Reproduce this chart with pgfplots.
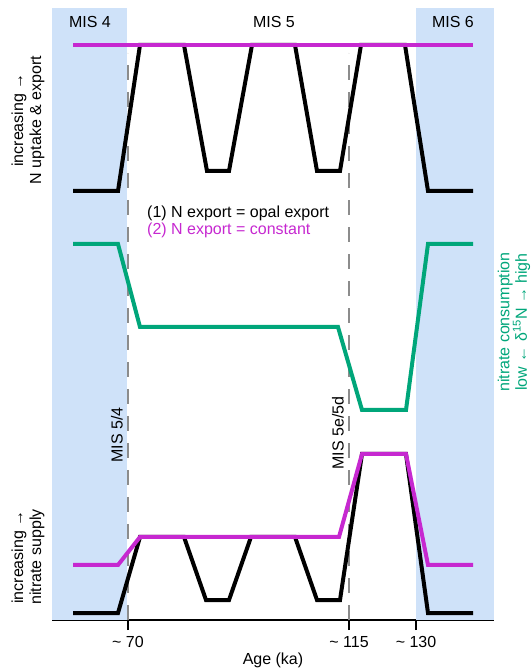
\documentclass[border=0pt]{standalone}
\usepackage{pgfplots}
\pgfplotsset{compat=1.18}
\usepackage{fontspec}
\setmainfont{Liberation Sans}

\definecolor{bandblue}{RGB}{207,226,249}
\definecolor{exportmag}{RGB}{198,40,208}
\definecolor{consgreen}{RGB}{0,166,122}
\definecolor{dashgray}{RGB}{140,140,140}

\newcommand{\lbl}{\fontsize{16pt}{18pt}\selectfont}
\newcommand{\approxage}[1]{\char"7E\ #1}

\begin{document}
\begin{tikzpicture}
\begin{axis}[
  width=442pt, height=612pt, scale only axis,
  xmin=52, xmax=494, ymin=50, ymax=662,
  clip=false,
  axis x line*=bottom, axis y line=none,
  axis line style={-, line width=1.1pt, black},
  xtick={128,349,416},
  xticklabels={\approxage{70}, \approxage{115}, \approxage{130}},
  tick align=outside,
  major tick length=10pt,
  tick style={black, line width=1.1pt},
  xticklabel style={font=\lbl, yshift=-3pt},
  ytick=\empty,
  every axis plot/.append style={line cap=butt, line join=miter},
]
% glacial stages shaded
\addplot[fill=bandblue, draw=none] coordinates {(52,50) (127,50) (127,662) (52,662)} -- cycle;
\addplot[fill=bandblue, draw=none] coordinates {(416,50) (494,50) (494,662) (416,662)} -- cycle;

% stage boundaries
\addplot[dashgray, line width=2pt, dash pattern=on 15pt off 12pt] coordinates {(128,50) (128,617)};
\addplot[dashgray, line width=2pt, dash pattern=on 15pt off 12pt] coordinates {(349,50) (349,617)};

% N uptake & export
\addplot[black, line width=4pt] coordinates {
  (73,479) (118,479) (140,625) (184,625) (207,499) (229,499) (252,625)
  (295,625) (317,499) (340,499) (361,625) (405,625) (428,479) (473,479)};
\addplot[exportmag, line width=4pt] coordinates {(73,625) (473,625)};

% nitrate consumption
\addplot[consgreen, line width=4pt] coordinates {
  (73,426) (118,426) (140,343) (338,343) (362,260) (406,260) (428,426) (473,426)};

% nitrate supply
\addplot[black, line width=4pt] coordinates {
  (73,57) (118,57) (140,133) (184,133) (206,70) (229,70) (251,133)
  (295,133) (317,70) (340,70) (362,216) (406,216) (428,57) (473,57)};
\addplot[exportmag, line width=4pt] coordinates {
  (73,105) (118,105) (140,133) (339,133) (362,216) (406,216) (428,105) (473,105)};

% text
\node[font=\lbl] at (axis cs:90,648) {MIS 4};
\node[font=\lbl] at (axis cs:274,648) {MIS 5};
\node[font=\lbl] at (axis cs:453,648) {MIS 6};
\node[font=\lbl, anchor=west, inner sep=0pt] at (axis cs:147,457) {(1) N export = opal export};
\node[font=\lbl, anchor=west, inner sep=0pt, text=exportmag] at (axis cs:147,440) {(2) N export = constant};
\node[font=\lbl, rotate=90, inner sep=0pt] at (axis cs:117,235) {MIS 5/4};
\node[font=\lbl, rotate=90, inner sep=0pt] at (axis cs:338,237) {MIS 5e/5d};
\node[font=\lbl, rotate=90, align=center, inner sep=0pt] at (axis cs:28,550) {increasing →\\N uptake \& export};
\node[font=\lbl, rotate=90, align=center, inner sep=0pt] at (axis cs:28,113) {increasing →\\nitrate supply};
\node[font=\fontsize{16pt}{17.5pt}\selectfont, rotate=90, align=center, inner sep=0pt, text=consgreen] at (axis cs:514,348) {nitrate consumption\\low ← δ\textsuperscript{15}N → high};
\node[font=\lbl] at (axis cs:273,10) {Age (ka)};
\end{axis}
% page extent: the axis box plus its margins
\pgfresetboundingbox
\path ([xshift=-52pt,yshift=-50pt]current axis.south west) rectangle ([xshift=37pt,yshift=8pt]current axis.north east);
\end{tikzpicture}
\end{document}
